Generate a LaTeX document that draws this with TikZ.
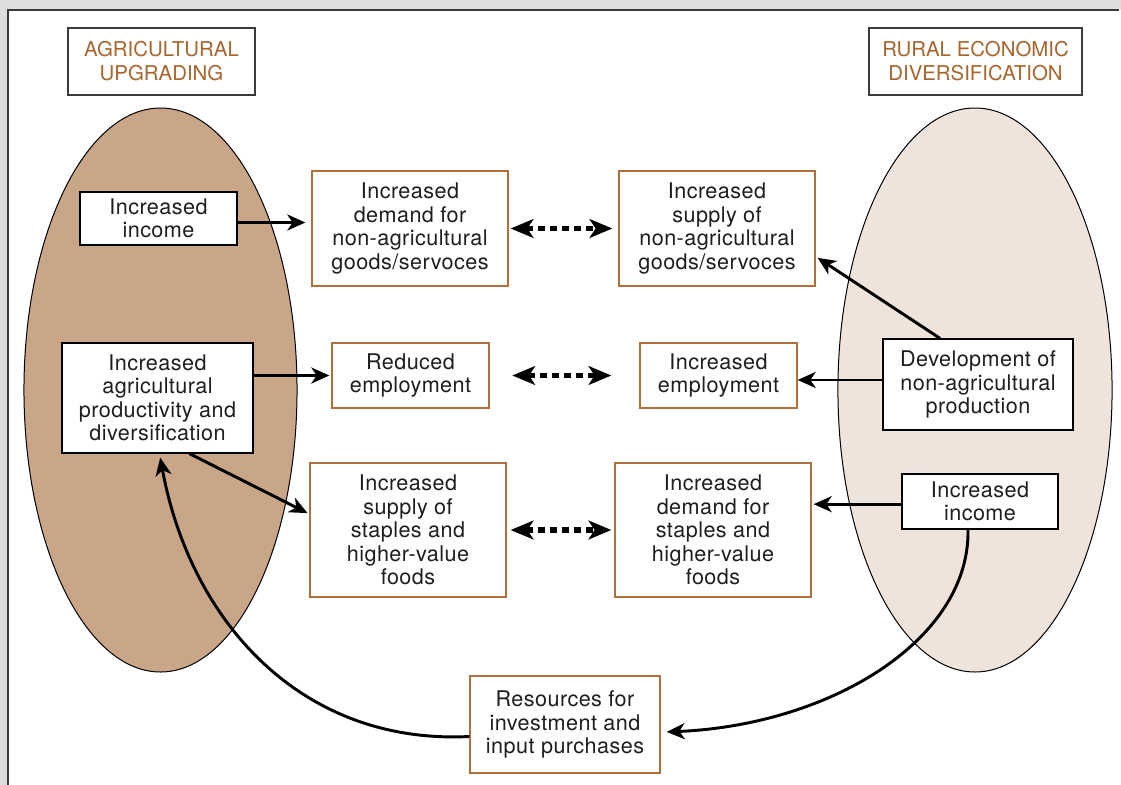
\documentclass[tikz,border=0pt]{standalone}
\usepackage{fontspec}
\newfontfamily\bxfont{TeX Gyre Heros}[LetterSpace=2]
\newfontfamily\ttlfont{TeX Gyre Heros}
\usetikzlibrary{arrows.meta,calc}
\definecolor{bgc}{HTML}{DCDDDF}
\definecolor{frm}{HTML}{3A3A3A}
\definecolor{tanc}{HTML}{C9A688}
\definecolor{creamc}{HTML}{EFE4DB}
\definecolor{obr}{HTML}{B3703A}
\definecolor{ttl}{HTML}{A8652E}
\definecolor{txt}{HTML}{1E1E1E}
\tikzset{
  bx/.style 2 args={minimum width=#1*0.75pt, minimum height=#2*0.75pt},
  plainbox/.style={draw=black, line width=1pt, fill=white, align=center, inner sep=0pt,
    text=txt, font=\bxfont\fontsize{16.2}{17.6}\selectfont},
  orbox/.style={plainbox, draw=obr},
  titlebox/.style={draw=frm, line width=1pt, fill=white, align=center, inner sep=0pt,
    text=ttl, font=\ttlfont\fontsize{15.3}{18}\selectfont},
  arr/.style={line width=2.2pt, -{Stealth[length=13.5pt, width=12pt, inset=4pt]}},
  dotarr/.style={line width=4pt, dash pattern=on 5.5pt off 3.5pt,
    {Stealth[length=17pt, width=14pt, inset=4.5pt]}-{Stealth[length=17pt, width=14pt, inset=4.5pt]}},
  ell/.style={draw=black, line width=0.75pt}
}
\begin{document}
\begin{tikzpicture}[x=0.75pt,y=-0.75pt]
\useasboundingbox (0,0) rectangle (1121,785);
\fill[bgc] (0,0) rectangle (1121,785);
\fill[white] (8,10) rectangle (1121,785);
\draw[frm, line width=1.2pt] (8,785) -- (8,10) -- (1119,10);

% ellipses
\draw[ell, fill=tanc] (160.5,390) ellipse [x radius=102.4pt, y radius=211.5pt];
\draw[ell, fill=creamc] (975,390) ellipse [x radius=102.8pt, y radius=211.5pt];

% titles
\node[titlebox, bx={187}{67}] (t1) at (161.5,61.5) {AGRICULTURAL\\UPGRADING};
\node[titlebox, bx={213}{67}] (t2) at (975.5,61.5) {RURAL ECONOMIC\\DIVERSIFICATION};

% left ellipse boxes
\node[plainbox, bx={157}{53}] (inc1) at (158.5,218.5) {Increased\\income};
\node[plainbox, bx={191}{110}] (prod) at (157.5,398) {Increased\\agricultural\\productivity and\\diversification};

% right ellipse boxes
\node[plainbox, bx={190}{91}] (dev) at (978,384.5) {Development of\\non-agricultural\\production};
\node[plainbox, bx={156}{55}] (inc2) at (980,501.5) {Increased\\income};

% middle boxes
\node[orbox, bx={196}{115}] (dem) at (410,228.5) {Increased\\demand for\\non-agricultural\\goods/servoces};
\node[orbox, bx={196}{115}] (sup) at (717,228.5) {Increased\\supply of\\non-agricultural\\goods/servoces};
\node[orbox, bx={157}{65}] (rem) at (410.5,375.5) {Reduced\\employment};
\node[orbox, bx={157}{65}] (iem) at (718.5,375.5) {Increased\\employment};
\node[orbox, bx={196}{134}] (sst) at (408,530) {Increased\\supply of\\staples and\\higher-value\\foods};
\node[orbox, bx={196}{134}] (dst) at (713,530) {Increased\\demand for\\staples and\\higher-value\\foods};
\node[orbox, bx={190}{97}] (res) at (565,724.5) {Resources for\\investment and\\input purchases};

% dotted double arrows
\draw[dotarr, shorten <=1.5pt, shorten >=4.5pt] (dem.east) -- (sup.west);
\draw[dotarr, shorten <=17pt, shorten >=21pt] (rem.east) -- (iem.west);
\draw[dotarr, shorten <=3pt, shorten >=2.25pt] (sst.east) -- (dst.west);

% straight arrows
\draw[arr, shorten >=4.5pt] ([yshift=-3pt]inc1.east) -- ([yshift=-3pt]inc1.east -| dem.west);
\draw[arr, shorten >=1.5pt] (prod.east |- rem.west) -- (rem.west);
\draw[arr, shorten >=1.5pt] ([xshift=24pt]prod.south) -- ([yshift=12pt]sst.west);
\draw[arr] ([xshift=-28.5pt]dev.north) -- ([xshift=1.5pt,yshift=-22pt]sup.east);
\draw[arr] ([yshift=3.4pt]dev.west) -- ([yshift=3.4pt]dev.west -| iem.east);
\draw[arr, shorten >=1.5pt] ([yshift=-2pt]inc2.west) -- ([yshift=-2pt]inc2.west -| dst.east);

% curved arrows
\draw[arr] ([xshift=-9pt]inc2.south) .. controls (970,640) and (830,725) .. ([xshift=4.5pt,yshift=-5.6pt]res.east);
\draw[arr, shorten >=3pt] ([yshift=-9pt]res.west) .. controls (300,745) and (190,620) .. ([xshift=1.5pt]prod.south);
\end{tikzpicture}
\end{document}
